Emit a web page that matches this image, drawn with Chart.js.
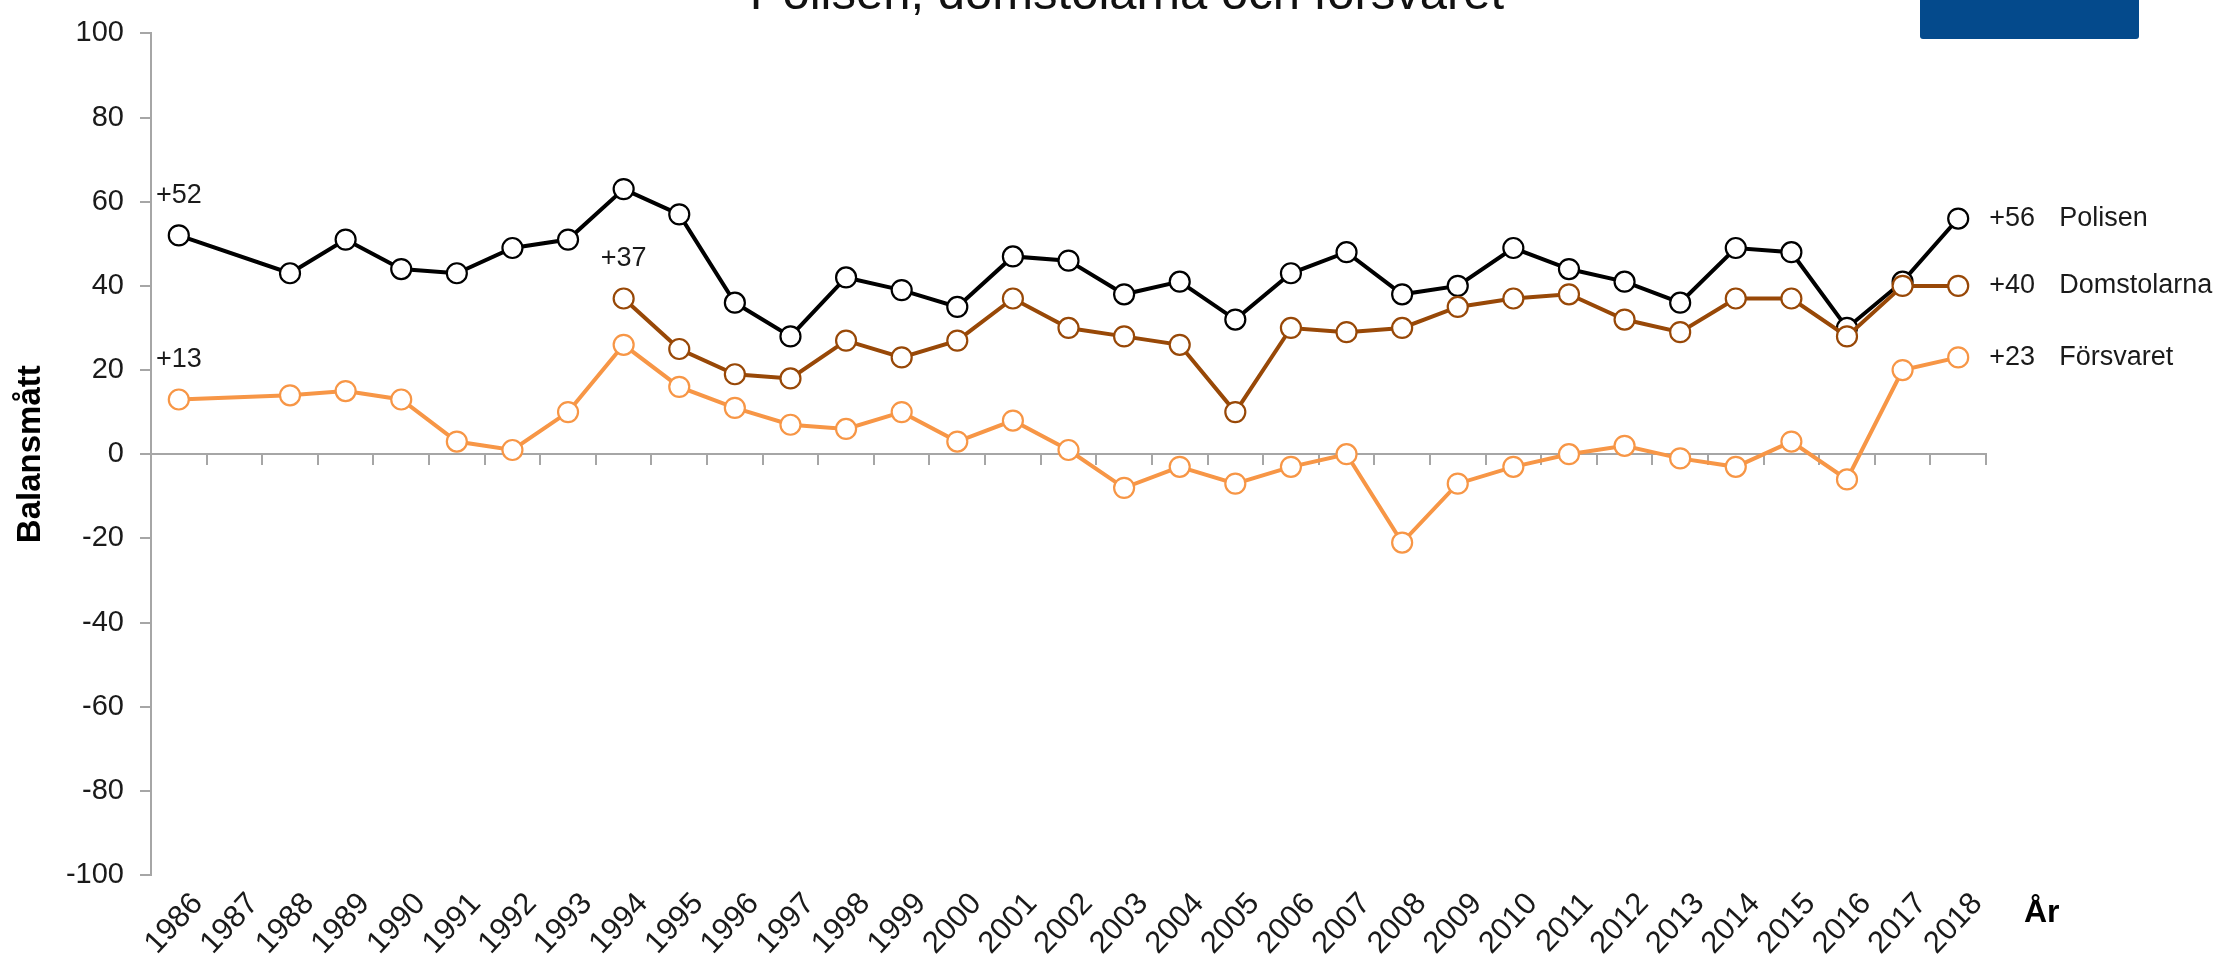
<!DOCTYPE html>
<html>
<head>
<meta charset="utf-8">
<script src="https://cdn.jsdelivr.net/npm/chart.js@4"></script>
<style>
  body { margin: 0; background: #fff; }
  #wrap { width: 2219px; height: 957px; }
</style>
</head>
<body>
<div id="wrap"><canvas id="myChart" width="2219" height="957"></canvas></div>
<script>
const years = ["1986","1987","1988","1989","1990","1991","1992","1993","1994","1995","1996","1997","1998","1999","2000","2001","2002","2003","2004","2005","2006","2007","2008","2009","2010","2011","2012","2013","2014","2015","2016","2017","2018"];
const polisen     = [52,null,43,51,44,43,49,51,63,57,36,28,42,39,35,47,46,38,41,32,43,48,38,40,49,44,41,36,49,48,30,41,56];
const domstolarna = [null,null,null,null,null,null,null,null,37,25,19,18,27,23,27,37,30,28,26,10,30,29,30,35,37,38,32,29,37,37,28,40,40];
const forsvaret   = [13,null,14,15,13,3,1,10,26,16,11,7,6,10,3,8,1,-8,-3,-7,-3,0,-21,-7,-3,0,2,-1,-3,3,-6,20,23];
const seriesNames = ["Polisen","Domstolarna","Försvaret"];
const yTicks = [-100,-80,-60,-40,-20,0,20,40,60,80,100];

const titel = "Polisen, domstolarna och försvaret";
const fontFam = "'Liberation Sans', Arial, sans-serif";
const gra = "#a6a6a6";
const textFarg = "#1a1a1a";

const ctx = document.getElementById("myChart");

// etiketter vid första och sista punkten + rubrik och "År"
const etiketter = {
  id: "etiketter",
  afterDatasetsDraw(chart) {
    const c = chart.ctx;
    c.save();
    c.fillStyle = textFarg;
    c.font = "27px " + fontFam;
    chart.data.datasets.forEach((ds, i) => {
      const meta = chart.getDatasetMeta(i);
      let forsta = ds.data.findIndex(v => v !== null);
      let sista = ds.data.length - 1;
      const p0 = meta.data[forsta];
      const p1 = meta.data[sista];
      c.textAlign = "center";
      c.textBaseline = "middle";
      c.fillText("+" + ds.data[forsta], p0.x, p0.y - 40);
      c.textAlign = "left";
      c.fillText("+" + ds.data[sista], p1.x + 31, p1.y);
      c.fillText(seriesNames[i], p1.x + 101, p1.y);
    });
    // rubrik, avskuren upptill
    c.textAlign = "center";
    c.textBaseline = "alphabetic";
    c.font = "49px " + fontFam;
    c.fillStyle = "#111";
    c.fillText(titel, 1127, 9);
    // blå ruta
    c.fillStyle = "#044a8c";
    c.beginPath();
    c.moveTo(1920, 0);
    c.lineTo(2139, 0);
    c.lineTo(2139, 36);
    c.quadraticCurveTo(2139, 39, 2136, 39);
    c.lineTo(1923, 39);
    c.quadraticCurveTo(1920, 39, 1920, 36);
    c.closePath();
    c.fill();
    // "År"
    c.fillStyle = "#000";
    c.font = "bold 32px " + fontFam;
    c.textAlign = "left";
    c.fillText("År", chart.chartArea.right + 38, 922);
    c.restore();
  }
};

function serie(label, data, farg, ordning) {
  return {
    label: label,
    data: data,
    borderColor: farg,
    backgroundColor: "#ffffff",
    borderWidth: 4,
    pointRadius: 10,
    pointBorderWidth: 2.2,
    pointBackgroundColor: "#ffffff",
    pointBorderColor: farg,
    tension: 0,
    spanGaps: true,
    order: ordning
  };
}

const myChart = new Chart(ctx, {
  type: "line",
  data: {
    labels: years,
    datasets: [
      serie(seriesNames[0], polisen, "#000000", 2),
      serie(seriesNames[1], domstolarna, "#984807", 1),
      serie(seriesNames[2], forsvaret, "#f79646", 3)
    ]
  },
  options: {
    responsive: false,
    animation: false,
    layout: { padding: { top: 26, right: 233, left: 0, bottom: 0 } },
    plugins: { legend: { display: false }, tooltip: { enabled: false } },
    scales: {
      x: {
        type: "category",
        offset: true,
        grid: { display: false, drawTicks: false },
        border: { display: false },
        ticks: {
          autoSkip: false,
          minRotation: 47,
          maxRotation: 47,
          padding: 11,
          labelOffset: 19,
          color: textFarg,
          font: { family: fontFam, size: 31 }
        },
        afterFit(scale) { scale.height = 82; }
      },
      x2: {
        type: "category",
        axis: "x",
        position: { y: 0 },
        offset: true,
        grid: { display: true, drawOnChartArea: false, drawTicks: true, tickLength: 10, offset: true, color: gra, lineWidth: 2 },
        border: { display: true, color: gra, width: 2 },
        ticks: { display: false }
      },
      y: {
        min: -100,
        max: 100,
        afterBuildTicks(scale) { scale.ticks = yTicks.map(v => ({ value: v })); },
        grid: { display: true, drawOnChartArea: false, drawTicks: true, tickLength: 11, color: gra, lineWidth: 2 },
        border: { display: true, color: gra, width: 2 },
        ticks: {
          padding: 16,
          color: textFarg,
          font: { family: fontFam, size: 29 }
        },
        title: {
          display: true,
          text: "Balansmått",
          color: "#000",
          padding: { top: 11, bottom: 0 },
          font: { family: fontFam, size: 33, weight: "bold" }
        },
        afterFit(scale) { scale.width = 151; }
      }
    }
  },
  plugins: [etiketter]
});
</script>
</body>
</html>
